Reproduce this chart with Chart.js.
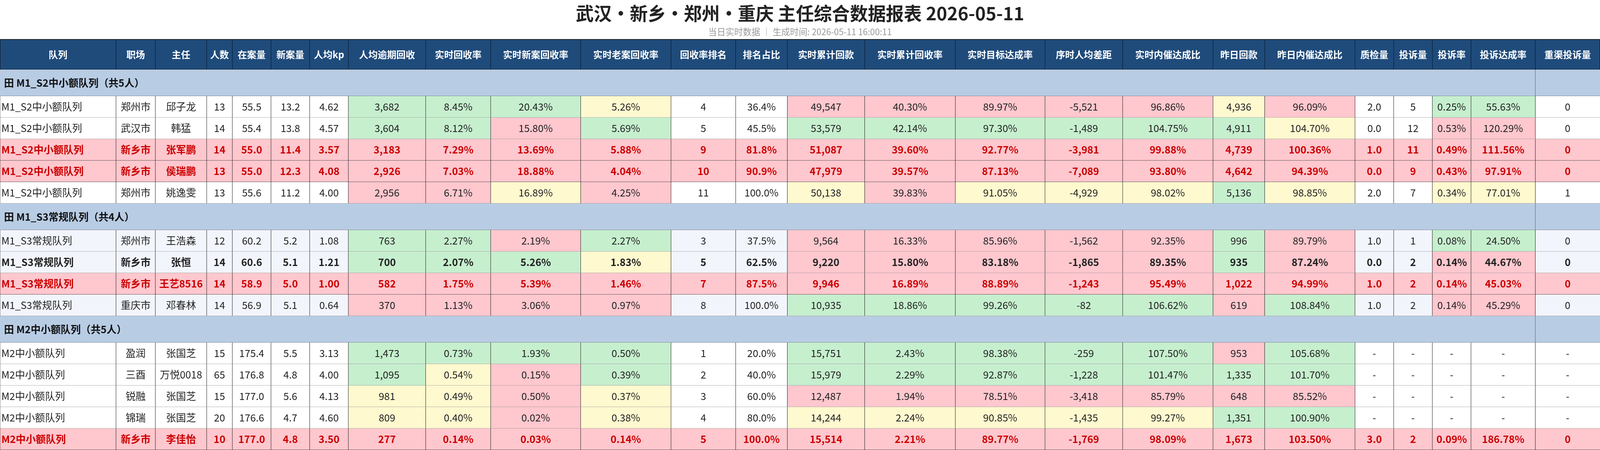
<!DOCTYPE html>
<html>
<head>
<meta charset="utf-8">
<script src="https://cdn.jsdelivr.net/npm/chart.js@4.4.1/dist/chart.umd.min.js"></script>
<style>
  html, body { margin: 0; padding: 0; background: #fff; overflow: hidden; }
  #wrap { position: relative; width: 100vw; height: 100vh; }
</style>
</head>
<body>
<div id="wrap"><canvas id="tbl"></canvas></div>
<script>
// ---- data ----
const title = '武汉•新乡•郑州•重庆 主任综合数据报表 2026-05-11';
const subtitle = '当日实时数据 │ 生成时间: 2026-05-11 16:00:11';
const headers = ['队列','职场','主任','人数','在案量','新案量','人均kp','人均逾期回收','实时回收率','实时新案回收率','实时老案回收率','回收率排名','排名占比','实时累计回款','实时累计回收率','实时目标达成率','序时人均差距','实时内催达成比','昨日回款','昨日内催达成比','质检量','投诉量','投诉率','投诉达成率','重渠投诉量'];
const groups = ['M1_S2中小额队列', 'M1_S3常规队列', 'M2中小额队列'];
const groupSizes = [5, 4, 5];

const queues = ['M1_S2中小额队列','M1_S2中小额队列','M1_S2中小额队列','M1_S2中小额队列','M1_S2中小额队列','M1_S3常规队列','M1_S3常规队列','M1_S3常规队列','M1_S3常规队列','M2中小额队列','M2中小额队列','M2中小额队列','M2中小额队列','M2中小额队列'];
const sites = ['郑州市','武汉市','新乡市','新乡市','郑州市','郑州市','新乡市','新乡市','重庆市','盈润','三酉','锐融','锦瑞','新乡市'];
const directors = ['邱子龙','韩猛','张军鹏','侯瑞鹏','姚逸雯','王浩森','张恒','王艺8516','邓春林','张国芝','万悦0018','张国芝','张国芝','李佳怡'];
const headcount = [13,14,14,13,13,12,14,14,14,15,65,15,20,10];
const openCases = [55.5,55.4,55.0,55.0,55.6,60.2,60.6,58.9,56.9,175.4,176.8,177.0,176.6,177.0];
const newCases = [13.2,13.8,11.4,12.3,11.2,5.2,5.1,5.0,5.1,5.5,4.8,5.6,4.7,4.8];
const kpPerHead = [4.62,4.57,3.57,4.08,4.00,1.08,1.21,1.00,0.64,3.13,4.00,4.13,4.60,3.50];
const overduePerHead = [3682,3604,3183,2926,2956,763,700,582,370,1473,1095,981,809,277];
const recoveryRate = [8.45,8.12,7.29,7.03,6.71,2.27,2.07,1.75,1.13,0.73,0.54,0.49,0.40,0.14];
const newRate = [20.43,15.80,13.69,18.88,16.89,2.19,5.26,5.39,3.06,1.93,0.15,0.50,0.02,0.03];
const oldRate = [5.26,5.69,5.88,4.04,4.25,2.27,1.83,1.46,0.97,0.50,0.39,0.37,0.38,0.14];
const rank = [4,5,9,10,11,3,5,7,8,1,2,3,4,5];
const rankShare = [36.4,45.5,81.8,90.9,100.0,37.5,62.5,87.5,100.0,20.0,40.0,60.0,80.0,100.0];
const cumAmount = [49547,53579,51087,47979,50138,9564,9220,9946,10935,15751,15979,12487,14244,15514];
const cumRate = [40.30,42.14,39.60,39.57,39.83,16.33,15.80,16.89,18.86,2.43,2.29,1.94,2.24,2.21];
const targetRate = [89.97,97.30,92.77,87.13,91.05,85.96,83.18,88.89,99.26,98.38,92.87,78.51,90.85,89.77];
const paceGap = [-5521,-1489,-3981,-7089,-4929,-1562,-1865,-1243,-82,-259,-1228,-3418,-1435,-1769];
const innerRatio = [96.86,104.75,99.88,93.80,98.02,92.35,89.35,95.49,106.62,107.50,101.47,85.79,99.27,98.09];
const ydayAmount = [4936,4911,4739,4642,5136,996,935,1022,619,953,1335,648,1351,1673];
const ydayInner = [96.09,104.70,100.36,94.39,98.85,89.79,87.24,94.99,108.84,105.68,101.70,85.52,100.90,103.50];
const qcCount = [2.0,0.0,1.0,0.0,2.0,1.0,0.0,1.0,1.0,null,null,null,null,3.0];
const complaints = [5,12,11,9,7,1,2,2,2,null,null,null,null,2];
const complaintRate = [0.25,0.53,0.49,0.43,0.34,0.08,0.14,0.14,0.14,null,null,null,null,0.09];
const complaintTarget = [55.63,120.29,111.56,97.91,77.01,24.50,44.67,45.03,45.29,null,null,null,null,186.78];
const channelComplaints = [0,0,0,0,1,0,0,0,0,null,null,null,null,0];

// row kind: n normal, a alternate, r red highlight, b bold
const rowKinds = ['n','n','r','r','n','a','b','r','a','n','n','n','n','r'];
// cell status (g good / y warn / r bad / - none) for the colored columns
const statusCols = [7,8,9,10,13,14,15,16,17,18,19,22,23];
const cellStatus = [
  'gggyrrrrryrgg', 'ggrgggggggyrr', 'rrrrrrrrrrrrr', 'rrrrrrrrrrrrr', 'rryryryyygyyy',
  'ggrgrrrrrgrgg', 'gggyrrrrrgrrr', 'rrrrrrrrrrrrr', 'rrrrgggggrgrr',
  'gggggggggrg--', 'gyrgggggggg--', 'yyryrrrrrrr--', 'yyryyyyyygg--', 'rrrrrrrrrrrrr'
];

// ---- layout / style (in 4800x1152 reference units) ----
const colEdges = [0,348,466,620,697,813,929,1045,1277,1472,1742,2013,2207,2362,2594,2866,3135,3368,3639,3794,4065,4181,4297,4413,4606,4800];
const titleH = 101, headH = 77, groupH = 68, rowH = 55;
const FONT = '"Noto Sans CJK SC", "Noto Sans", sans-serif';
const C = {
  head: '#1f4b7b', group: '#b8cce4', g: '#c6efce', y: '#fff9cf', r: '#ffc7ce',
  alt: '#f2f5fc', red: '#cc0000', line: '#222', rowLine: '#999'
};

const fmtComma = v => v.toLocaleString('en-US');
const fmtFix = d => v => v.toFixed(d);
const fmtPct = d => v => v.toFixed(d) + '%';
const columns = [
  [queues, v => v], [sites, v => v], [directors, v => v], [headcount, String],
  [openCases, fmtFix(1)], [newCases, fmtFix(1)], [kpPerHead, fmtFix(2)], [overduePerHead, fmtComma],
  [recoveryRate, fmtPct(2)], [newRate, fmtPct(2)], [oldRate, fmtPct(2)], [rank, String],
  [rankShare, fmtPct(1)], [cumAmount, fmtComma], [cumRate, fmtPct(2)], [targetRate, fmtPct(2)],
  [paceGap, fmtComma], [innerRatio, fmtPct(2)], [ydayAmount, fmtComma], [ydayInner, fmtPct(2)],
  [qcCount, fmtFix(1)], [complaints, String], [complaintRate, fmtPct(2)], [complaintTarget, fmtPct(2)],
  [channelComplaints, String]
];

const tablePlugin = {
  id: 'tablePlugin',
  afterDraw(chart) {
    const ctx = chart.ctx;
    const xs = chart.scales.x, ys = chart.scales.y;
    const X = v => xs.getPixelForValue(v), Y = v => ys.getPixelForValue(v);
    const k = chart.width / 4800;
    const font = (px, bold) => (bold ? 'bold ' : '') + (px * k) + 'px ' + FONT;
    const ncol = headers.length;

    ctx.save();
    ctx.textBaseline = 'middle';
    ctx.textAlign = 'center';
    ctx.fillStyle = '#222';
    ctx.font = font(54, true);
    ctx.fillText(title, X(2400), Y(34));
    ctx.fillStyle = '#999';
    ctx.font = font(26);
    ctx.fillText(subtitle, X(2400), Y(82));

    // header
    let top = titleH;
    ctx.fillStyle = C.head;
    ctx.fillRect(X(0), Y(top), X(4800) - X(0), Y(top + headH) - Y(top));
    ctx.font = font(28, true);
    for (let c = 0; c < ncol; c++) {
      ctx.fillStyle = '#fff';
      ctx.fillText(headers[c], X((colEdges[c] + colEdges[c + 1]) / 2), Y(top + headH / 2));
      ctx.strokeStyle = '#0a1f38'; ctx.lineWidth = 1.5 * k;
      ctx.beginPath(); ctx.moveTo(X(colEdges[c]), Y(top)); ctx.lineTo(X(colEdges[c]), Y(top + headH)); ctx.stroke();
    }
    ctx.strokeStyle = '#111'; ctx.lineWidth = 2 * k;
    ctx.strokeRect(X(0), Y(top), X(4800) - X(0), Y(top + headH) - Y(top));
    top += headH;

    let r = 0;
    groups.forEach((g, gi) => {
      // group band
      ctx.fillStyle = C.group;
      ctx.fillRect(X(0), Y(top), X(4800) - X(0), Y(top + groupH) - Y(top));
      ctx.strokeStyle = '#777'; ctx.lineWidth = 1.5 * k;
      ctx.beginPath(); ctx.moveTo(X(colEdges[ncol - 1]), Y(top)); ctx.lineTo(X(colEdges[ncol - 1]), Y(top + groupH)); ctx.stroke();
      ctx.beginPath(); ctx.moveTo(X(0), Y(top + groupH)); ctx.lineTo(X(4800), Y(top + groupH)); ctx.stroke();
      ctx.fillStyle = '#111';
      ctx.font = font(30, true);
      ctx.textAlign = 'left';
      ctx.fillText('田 ' + g + '（共' + groupSizes[gi] + '人）', X(12), Y(top + groupH / 2));
      top += groupH;

      for (let j = 0; j < groupSizes[gi]; j++, r++) {
        const kind = rowKinds[r];
        const y0 = Y(top), y1 = Y(top + rowH);
        for (let c = 0; c < ncol; c++) {
          const x0 = X(colEdges[c]), x1 = X(colEdges[c + 1]);
          let bg = kind === 'a' || kind === 'b' ? C.alt : '#fff';
          if (kind === 'r') bg = C.r;
          const si = statusCols.indexOf(c);
          if (si >= 0) {
            const s = cellStatus[r][si];
            if (s !== '-') bg = C[s];
          }
          ctx.fillStyle = bg;
          ctx.fillRect(x0, y0, x1 - x0, y1 - y0);
          ctx.strokeStyle = C.line; ctx.lineWidth = 1.2 * k;
          ctx.beginPath(); ctx.moveTo(x0, y0); ctx.lineTo(x0, y1); ctx.stroke();

          const [arr, fmt] = columns[c];
          const v = arr[r];
          const txt = v === null ? '-' : fmt(v);
          const bold = kind === 'r' || kind === 'b';
          ctx.font = font(30, bold);
          ctx.fillStyle = kind === 'r' ? C.red : '#222';
          if (c === 0) { ctx.textAlign = 'left'; ctx.fillText(txt, x0 + 4 * k, (y0 + y1) / 2); }
          else { ctx.textAlign = 'center'; ctx.fillText(txt, (x0 + x1) / 2, (y0 + y1) / 2); }
        }
        ctx.strokeStyle = kind === 'r' ? '#333' : C.rowLine; ctx.lineWidth = 2 * k;
        ctx.beginPath(); ctx.moveTo(X(0), y1); ctx.lineTo(X(4800), y1); ctx.stroke();
        top += rowH;
      }
    });
    ctx.restore();
  }
};

new Chart(document.getElementById('tbl'), {
  type: 'scatter',
  data: { datasets: [{ data: [] }] },
  options: {
    responsive: true,
    maintainAspectRatio: false,
    animation: false,
    layout: { padding: 0 },
    plugins: { legend: { display: false }, tooltip: { enabled: false } },
    scales: {
      x: { type: 'linear', min: 0, max: 4800, display: false },
      y: { type: 'linear', min: 0, max: 1152, reverse: true, display: false }
    }
  },
  plugins: [tablePlugin]
});
</script>
</body>
</html>
